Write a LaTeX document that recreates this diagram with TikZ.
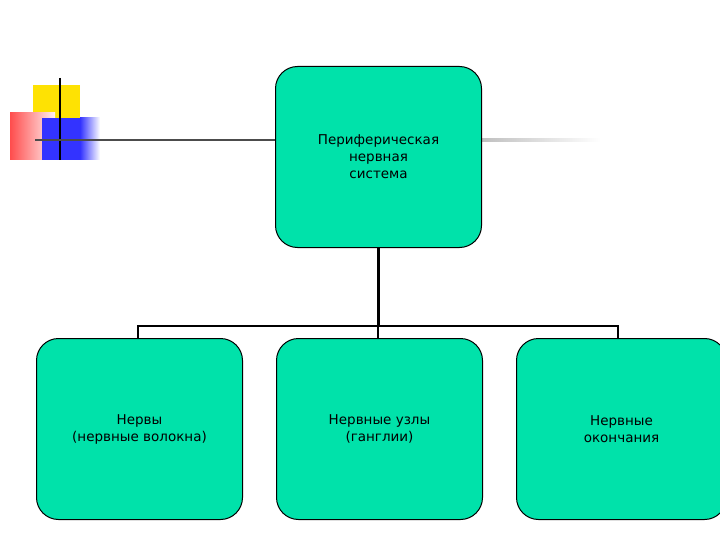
\documentclass[tikz,border=0pt]{standalone}
\usepackage{fontspec}
\setmainfont{DejaVu Sans}
\begin{document}
\begin{tikzpicture}[x=1pt,y=-1pt,
  box/.style={draw=black,line width=1pt,fill={rgb,255:red,0;green,226;blue,170},rounded corners=22pt,minimum width=206pt,minimum height=181pt,align=center,font=\fontsize{13.5}{17}\selectfont,anchor=north west,inner sep=0pt},
  conn/.style={line width=1.5pt}]
\useasboundingbox (0,0) rectangle (720,540);
% decoration
\fill[yellow!85!orange] (33,85) rectangle (80,130);
\shade[left color=red!70, right color=red!5] (10,113) rectangle (55,160);
\fill[blue!80] (42,118) rectangle (95,160);
\shade[left color=blue!80,right color=white] (80,118) rectangle (100,160);
\draw[line width=2pt,black] (60,78) -- (60,160);
\draw[line width=2pt,black!70] (35,140) -- (275,140);
\shade[left color=black!25,right color=white] (481,139) rectangle (600,142);
\node[box] (top) at (275,66) {Периферическая\\нервная\\ система};
\node[box] (b1) at (36,338) {Нервы\\(нервные волокна)};
\node[box] (b2) at (276,338) {Нервные узлы\\(ганглии)};
\node[box,minimum width=210pt] (b3) at (516,338) {Нервные\\окончания};
\coordinate (j) at (378,326);
\draw[line width=3pt] (top.south -| j) -- (j);
\draw[conn] (b1.north -| 138,0) |- (j) -| (b3.north -| 618,0);
\draw[conn] (j) -- (b2.north -| j);
\end{tikzpicture}
\end{document}
